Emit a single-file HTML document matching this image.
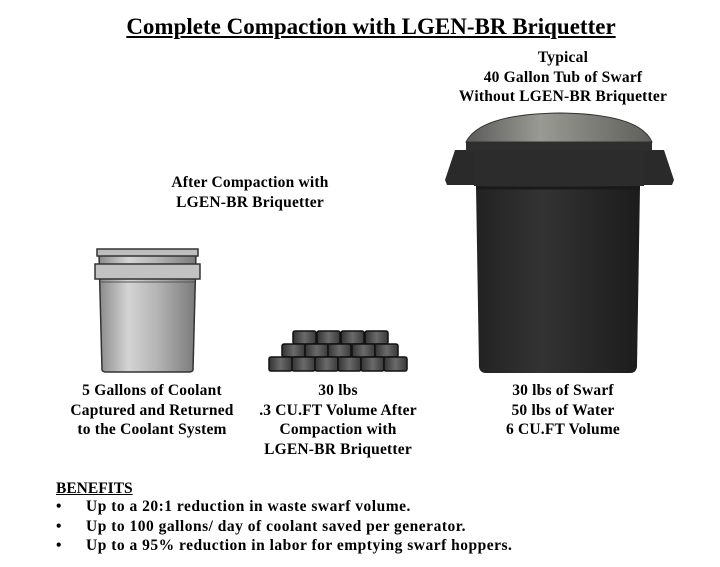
<!DOCTYPE html>
<html><head><meta charset="utf-8"><style>
body{margin:0;width:720px;height:567px;background:#fff;position:relative;overflow:hidden;font-family:"Liberation Serif",serif;font-weight:bold;color:#000}
.t{position:absolute;text-align:center;font-size:15.5px;letter-spacing:0.2px;line-height:19.5px;white-space:nowrap}
svg{position:absolute;left:0;top:0}
</style></head><body>
<svg width="720" height="567">
<defs>
<linearGradient id="bk" x1="0" x2="1"><stop offset="0" stop-color="#8a8a8a"/><stop offset=".3" stop-color="#d4d4d4"/><stop offset=".6" stop-color="#b4b4b4"/><stop offset="1" stop-color="#7a7a7a"/></linearGradient>
<linearGradient id="tb" x1="0" x2="1"><stop offset="0" stop-color="#222"/><stop offset=".4" stop-color="#333"/><stop offset="1" stop-color="#1c1c1c"/></linearGradient>
<linearGradient id="br" x1="0" x2="1"><stop offset="0" stop-color="#333"/><stop offset=".5" stop-color="#6a6a6a"/><stop offset="1" stop-color="#3a3a3a"/></linearGradient>
<linearGradient id="lid" x1="0" x2="1"><stop offset="0" stop-color="#5a5a58"/><stop offset=".4" stop-color="#9a9a94"/><stop offset="1" stop-color="#5e5e5a"/></linearGradient>
</defs>
<path d="M99 254 L196 254 L193 370 Q192 372 189 372 L106 372 Q103 372 102 370 Z" fill="url(#bk)" stroke="#333" stroke-width="1.5"/>
<rect x="97" y="249" width="101" height="7" fill="#bdbdbd" stroke="#333" stroke-width="1.5"/>
<rect x="95" y="264" width="105" height="15" fill="#c2c2c2" stroke="#333" stroke-width="1.5"/>
<line x1="100" y1="282" x2="195" y2="282" stroke="#555"/>
<g fill="url(#br)" stroke="#111" stroke-width="1.5">
<rect x="293" y="331" width="23" height="13" rx="2"/><rect x="317" y="331" width="23" height="13" rx="2"/><rect x="341" y="331" width="23" height="13" rx="2"/><rect x="365" y="331" width="23" height="13" rx="2"/>
<rect x="282" y="344" width="23" height="13" rx="2"/><rect x="305" y="344" width="23" height="13" rx="2"/><rect x="328" y="344" width="23" height="13" rx="2"/><rect x="352" y="344" width="23" height="13" rx="2"/><rect x="375" y="344" width="23" height="13" rx="2"/>
<rect x="269" y="357" width="23" height="14" rx="2"/><rect x="292" y="357" width="23" height="14" rx="2"/><rect x="315" y="357" width="23" height="14" rx="2"/><rect x="338" y="357" width="23" height="14" rx="2"/><rect x="361" y="357" width="23" height="14" rx="2"/><rect x="384" y="357" width="23" height="14" rx="2"/>
</g>
<path d="M466 142 Q480 114 560 113 Q640 114 652 142 Z" fill="url(#lid)" stroke="#333"/>
<path d="M475 150 L455 150 L445 180 L447 185 L672 185 L674 180 L664 150 L645 150 Z" fill="#2a2a2a"/>
<path d="M476 186 L640 186 L637 367 Q636 373 630 373 L486 373 Q480 373 479 367 Z" fill="url(#tb)"/>
<rect x="466" y="142" width="186" height="9" fill="#2e2e2e"/>
<rect x="474" y="150" width="170" height="36" fill="#2c2c2c"/>
<line x1="476" y1="188" x2="640" y2="188" stroke="#1a1a1a" stroke-width="3"/>
</svg>
<div class="t" style="left:0;width:742px;top:13px;font-size:23px;letter-spacing:0;line-height:28px"><span style="text-decoration:underline">Complete Compaction with LGEN-BR Briquetter</span></div>
<div class="t" style="left:443px;width:240px;top:48px">Typical<br>40 Gallon Tub of Swarf<br>Without LGEN-BR Briquetter</div>
<div class="t" style="left:130px;width:240px;top:173px">After Compaction with<br>LGEN-BR Briquetter</div>
<div class="t" style="left:32px;width:240px;top:381px">5 Gallons of Coolant<br>Captured and Returned<br>to the Coolant System</div>
<div class="t" style="left:218px;width:240px;top:381px">30 lbs<br>.3 CU.FT Volume After<br>Compaction with<br>LGEN-BR Briquetter</div>
<div class="t" style="left:443px;width:240px;top:381px">30 lbs of Swarf<br>50 lbs of Water<br>6 CU.FT Volume</div>
<div class="t" style="left:56px;top:479px;text-align:left;letter-spacing:0"><span style="text-decoration:underline">BENEFITS</span></div>
<div class="t" style="left:56px;top:497px;text-align:left;letter-spacing:0.5px">•<span style="position:absolute;left:30px">Up to a 20:1 reduction in waste swarf volume.</span><br>•<span style="position:absolute;left:30px">Up to 100 gallons/ day of coolant saved per generator.</span><br>•<span style="position:absolute;left:30px">Up to a 95% reduction in labor for emptying swarf hoppers.</span></div>
</body></html>
